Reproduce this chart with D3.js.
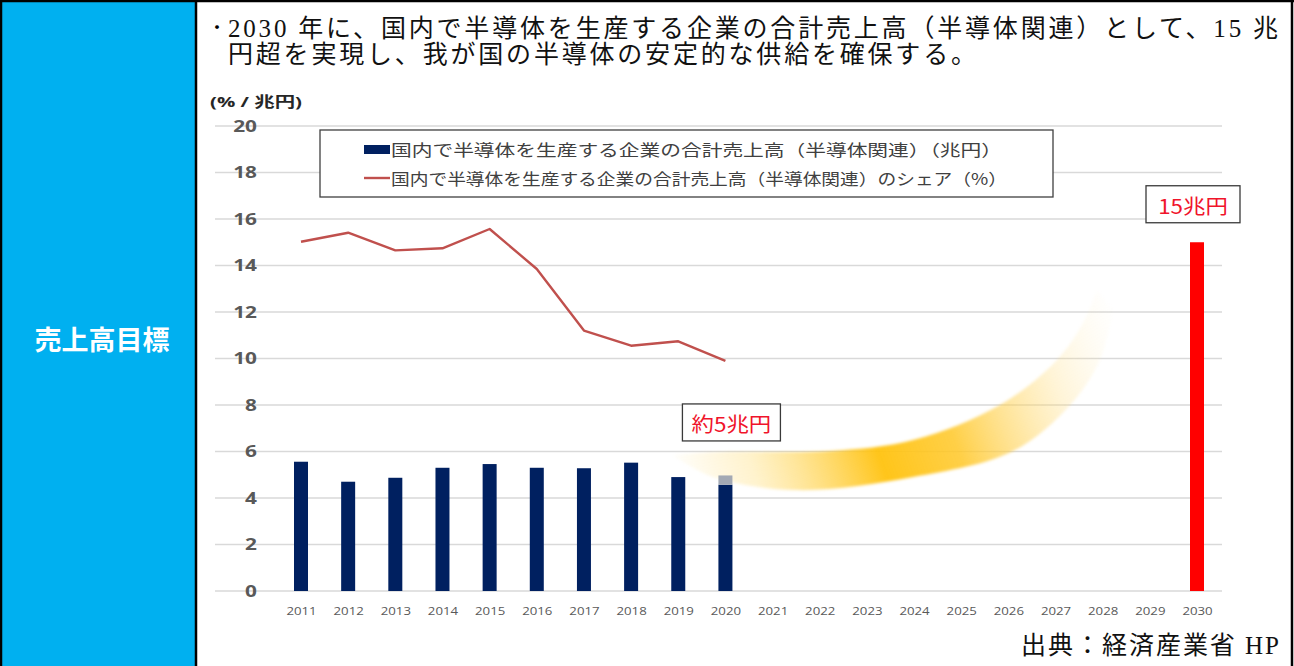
<!DOCTYPE html>
<html lang="ja">
<head>
<meta charset="utf-8">
<script src="https://cdn.jsdelivr.net/npm/d3@7/dist/d3.min.js"></script>
<style>
  html, body { margin: 0; padding: 0; background: #fff; }
  svg { display: block; }
</style>
</head>
<body>
<svg id="chart" width="1294" height="666"></svg>
<script>
// ---- data ----
const years = d3.range(2011, 2031);
const salesYears = [2011, 2012, 2013, 2014, 2015, 2016, 2017, 2018, 2019, 2020];
const salesValues = [5.56, 4.70, 4.87, 5.30, 5.46, 5.30, 5.28, 5.52, 4.90, 4.57];
const salesEstimateExtra = [0, 0, 0, 0, 0, 0, 0, 0, 0, 0.40]; // preliminary part of 2020
const shareValues = [15.02, 15.41, 14.65, 14.74, 15.57, 13.85, 11.2, 10.55, 10.74, 9.9];
const targetYear = 2030;
const targetValue = 15;
const currentLabelValue = 5;
const yTicks = [0, 2, 4, 6, 8, 10, 12, 14, 16, 18, 20];
const legendLabels = [
  "国内で半導体を生産する企業の合計売上高（半導体関連）（兆円）",
  "国内で半導体を生産する企業の合計売上高（半導体関連）のシェア（%）"
];
const headingLines = [
  "2030 年に、国内で半導体を生産する企業の合計売上高（半導体関連）として、15 兆",
  "円超を実現し、我が国の半導体の安定的な供給を確保する。"
];
const rowLabel = "売上高目標";
const unitLabel = "(% / 兆円)";
const sourceLabel = "出典：経済産業省 HP";
// growth arrow outline in (year, value) units: upper edge, then lower edge back
const arrowUpper = [[2018.87, 5.85], [2019.88, 5.98], [2022.22, 6.02], [2023.98, 6.49], [2025.82, 8.0], [2027.03, 9.94], [2027.62, 11.66], [2027.88, 12.95]];
const arrowLower = [[2028.22, 12.09], [2027.94, 9.94], [2027.31, 8.0], [2026.10, 6.02], [2023.98, 4.90], [2021.52, 4.34], [2019.74, 4.90], [2018.87, 5.85]];

// ---- colours ----
const navy = "#002060";
const shareRed = "#C0504D";
const targetRed = "#FF0000";
const labelRed = "#F0142B";
const grid = "#D9D9D9";
const tickGray = "#595959";
const cellBlue = "#00B0F0";

const svg = d3.select("#chart");
const W = 1294, H = 666;

// widen glyphs of chart texts horizontally
function stretch(sel, factor) {
  sel.each(function () {
    const w = this.getComputedTextLength();
    d3.select(this).attr("textLength", w * factor).attr("lengthAdjust", "spacingAndGlyphs");
  });
}

// ---- table frame ----
svg.append("rect").attr("x", 2).attr("y", 2).attr("width", 194).attr("height", H).attr("fill", cellBlue);
const frame = svg.append("g").attr("stroke", "#000").attr("stroke-width", 2.5).attr("fill", "none");
frame.append("line").attr("x1", 1).attr("y1", 0).attr("x2", 1).attr("y2", H);
frame.append("line").attr("x1", 0).attr("y1", 1).attr("x2", W).attr("y2", 1);
frame.append("line").attr("x1", 1292).attr("y1", 0).attr("x2", 1292).attr("y2", H);
frame.append("line").attr("x1", 196).attr("y1", 0).attr("x2", 196).attr("y2", H);

svg.append("text")
  .attr("x", 102).attr("y", 338)
  .attr("text-anchor", "middle").attr("dominant-baseline", "central")
  .attr("font-family", "'Noto Sans CJK JP', sans-serif")
  .attr("font-weight", 700).attr("font-size", 27).attr("fill", "#fff")
  .text(rowLabel);

// ---- heading ----
const headFont = "'Liberation Serif', 'Noto Sans CJK JP', serif";
svg.append("text").attr("x", 208).attr("y", 28).attr("dominant-baseline", "central")
  .attr("font-family", headFont).attr("font-size", 18).attr("fill", "#000").text("・");
svg.append("text").attr("x", 228).attr("y", 28).attr("dominant-baseline", "central")
  .attr("font-family", headFont).attr("font-size", 25).attr("fill", "#111")
  .attr("textLength", 1050).attr("lengthAdjust", "spacing")
  .text(headingLines[0]);
svg.append("text").attr("x", 228).attr("y", 54).attr("dominant-baseline", "central")
  .attr("font-family", headFont).attr("font-size", 25).attr("fill", "#111")
  .attr("textLength", 748).attr("lengthAdjust", "spacing")
  .text(headingLines[1]);

// ---- source ----
svg.append("text").attr("x", 1279).attr("y", 645).attr("dominant-baseline", "central")
  .attr("text-anchor", "end")
  .attr("font-family", headFont).attr("font-size", 25).attr("fill", "#111")
  .attr("textLength", 258).attr("lengthAdjust", "spacing")
  .text(sourceLabel);

// ---- scales ----
const x = d3.scalePoint().domain(years).range([301, 1197]);
const xLin = d3.scaleLinear().domain([2011, 2030]).range([301, 1197]);
const y = d3.scaleLinear().domain([0, 20]).range([591, 126]);
const barW = 14;
const gridX0 = 215, gridX1 = 1222;

// gridlines
svg.append("g").selectAll("line").data(yTicks).join("line")
  .attr("x1", gridX0).attr("x2", gridX1)
  .attr("y1", d => y(d)).attr("y2", d => y(d))
  .attr("stroke", grid).attr("stroke-width", 1.3);

// y axis labels
const yAxis = svg.append("g").attr("transform", "translate(257,0)")
  .call(d3.axisLeft(y).tickValues(yTicks).tickSize(0).tickPadding(0));
yAxis.select(".domain").remove();
yAxis.selectAll("text")
  .attr("font-family", "'Open Sans', sans-serif").attr("font-weight", 700)
  .attr("font-size", 16).attr("fill", tickGray)
  .call(stretch, 1.3);

const unit = svg.append("text").attr("x", 210).attr("y", 101).attr("dominant-baseline", "central")
  .attr("font-family", "'Open Sans', 'Noto Sans CJK JP', sans-serif").attr("font-weight", 700)
  .attr("font-size", 15).attr("fill", "#262626").text(unitLabel);
unit.attr("textLength", 92).attr("lengthAdjust", "spacingAndGlyphs");

// x axis labels
const xAxis = svg.append("g").attr("transform", "translate(0,603)")
  .call(d3.axisBottom(x).tickSize(0).tickPadding(4).tickFormat(d3.format("d")));
xAxis.select(".domain").remove();
xAxis.selectAll("text")
  .attr("font-family", "'Open Sans', sans-serif")
  .attr("font-size", 11.5).attr("fill", tickGray)
  .call(stretch, 1.15);

// ---- growth arrow (gradient band) ----
const defs = svg.append("defs");
const grad = defs.append("linearGradient").attr("id", "swoosh")
  .attr("gradientUnits", "userSpaceOnUse")
  .attr("x1", xLin(2018.8)).attr("y1", y(5.5))
  .attr("x2", xLin(2028.3)).attr("y2", y(12.5));
grad.append("stop").attr("offset", 0).attr("stop-color", "#FFD34D").attr("stop-opacity", 0);
grad.append("stop").attr("offset", 0.16).attr("stop-color", "#FFD65A").attr("stop-opacity", 0.3);
grad.append("stop").attr("offset", 0.42).attr("stop-color", "#FFC20E").attr("stop-opacity", 0.95);
grad.append("stop").attr("offset", 0.58).attr("stop-color", "#FFC726").attr("stop-opacity", 0.85);
grad.append("stop").attr("offset", 0.82).attr("stop-color", "#FFDB7A").attr("stop-opacity", 0.3);
grad.append("stop").attr("offset", 1).attr("stop-color", "#FFF0C8").attr("stop-opacity", 0);

const bandLine = d3.line().x(d => xLin(d[0])).y(d => y(d[1])).curve(d3.curveCatmullRom.alpha(0.5));
const outline = bandLine(arrowUpper) + " L" + bandLine(arrowLower).slice(1) + " Z";
svg.append("path").attr("d", outline).attr("fill", "url(#swoosh)")
  .style("filter", "blur(1.5px)");

// ---- bars ----
svg.append("g").selectAll("rect").data(salesYears).join("rect")
  .attr("x", d => x(d) - barW / 2)
  .attr("width", barW)
  .attr("y", (d, i) => y(salesValues[i]))
  .attr("height", (d, i) => y(0) - y(salesValues[i]))
  .attr("fill", navy);

svg.append("g").selectAll("rect").data(salesYears.filter((d, i) => salesEstimateExtra[i] > 0)).join("rect")
  .attr("x", d => x(d) - barW / 2)
  .attr("width", barW)
  .attr("y", d => { const i = salesYears.indexOf(d); return y(salesValues[i] + salesEstimateExtra[i]); })
  .attr("height", d => { const i = salesYears.indexOf(d); return y(salesValues[i]) - y(salesValues[i] + salesEstimateExtra[i]); })
  .attr("fill", "#A3A9B4");

svg.append("rect")
  .attr("x", x(targetYear) - barW / 2).attr("width", barW)
  .attr("y", y(targetValue)).attr("height", y(0) - y(targetValue))
  .attr("fill", targetRed);

// ---- share line ----
const shareLine = d3.line().x((d, i) => x(salesYears[i])).y(d => y(d));
svg.append("path").datum(shareValues).attr("d", shareLine)
  .attr("fill", "none").attr("stroke", shareRed).attr("stroke-width", 2.4)
  .attr("stroke-linejoin", "round");

// ---- value callouts ----
function callout(cx, cy, w, h, label) {
  const g = svg.append("g");
  g.append("rect").attr("x", cx - w / 2).attr("y", cy - h / 2).attr("width", w).attr("height", h)
    .attr("fill", "#fff").attr("stroke", "#3a3a3a").attr("stroke-width", 1.3);
  g.append("text").attr("x", cx).attr("y", cy + 1).attr("text-anchor", "middle")
    .attr("dominant-baseline", "central")
    .attr("font-family", "'Noto Sans CJK JP', sans-serif").attr("font-size", 20)
    .attr("fill", labelRed).text(label)
    .call(stretch, 1.12);
}
callout(x(2020) + 6, y(7.25), 98, 37, `約${currentLabelValue}兆円`);
callout(x(targetYear) - 4, y(targetValue) - 38, 94, 37, `${targetValue}兆円`);

// ---- legend ----
const lg = svg.append("g");
lg.append("rect").attr("x", 320).attr("y", 130).attr("width", 733).attr("height", 67)
  .attr("fill", "#fff").attr("stroke", "#404040").attr("stroke-width", 1.3);
lg.append("rect").attr("x", 364).attr("y", 145).attr("width", 26).attr("height", 9).attr("fill", navy);
lg.append("line").attr("x1", 364).attr("x2", 390).attr("y1", 178).attr("y2", 178)
  .attr("stroke", shareRed).attr("stroke-width", 2.4);
const legendWidths = [611, 616];
lg.selectAll("text.lab").data(legendLabels).join("text")
  .attr("class", "lab")
  .attr("x", 391).attr("y", (d, i) => 149 + i * 29)
  .attr("dominant-baseline", "central")
  .attr("font-family", "'Noto Sans CJK JP', sans-serif").attr("font-size", 16)
  .attr("fill", "#404040")
  .attr("textLength", (d, i) => legendWidths[i]).attr("lengthAdjust", "spacingAndGlyphs")
  .text(d => d);
</script>
</body>
</html>
